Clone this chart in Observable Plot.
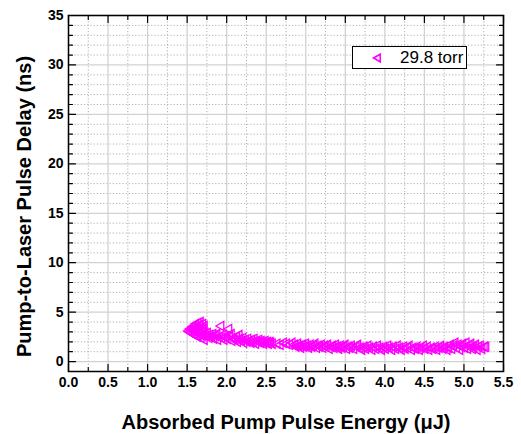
<!DOCTYPE html>
<html>
<head>
<meta charset="utf-8">
<script src="https://cdn.jsdelivr.net/npm/d3@7"></script>
<script src="https://cdn.jsdelivr.net/npm/@observablehq/plot@0.6"></script>
<style>
  body { margin: 0; background: #fff; }
  #wrap { position: relative; width: 521px; height: 434px; font-family: "Liberation Sans", Arial, sans-serif; }
  #legend { position: absolute; left: 352px; top: 46px; width: 115px; height: 23px; box-sizing: border-box;
            border: 1px solid #000; background: #fff; font-size: 17px; }
  #legend svg { position: absolute; left: 18px; top: 5px; }
  #legend span { position: absolute; left: 47px; top: 1px; }
</style>
</head>
<body>
<div id="wrap"></div>
<script>
// ---- data ----
const seriesName = "29.8 torr";
const energy = [
  1.52,1.54,1.54,1.56,1.56,1.57,1.58,1.58,1.59,1.60,1.60,1.61,1.62,1.62,1.63,1.64,1.64,1.65,1.66,1.66,1.67,1.68,1.68,1.69,1.70,1.70,1.71,1.72,1.72,1.73,
  1.75,1.76,1.78,1.79,1.81,1.83,1.84,1.86,1.88,1.89,1.91,1.93,1.94,1.96,1.97,1.99,2.01,2.03,2.04,2.06,2.07,2.09,2.11,2.13,2.14,2.16,2.17,2.19,2.21,2.22,
  2.24,2.26,2.27,2.29,2.31,2.32,2.34,2.35,2.37,2.38,2.40,2.41,2.43,2.44,2.46,2.47,2.49,2.50,2.52,2.53,2.55,2.56,2.58,
  2.64,2.68,2.72,2.76,2.80,2.83,
  2.86,2.88,2.90,2.92,2.94,2.96,2.98,3.00,3.02,3.04,3.06,3.08,3.10,3.12,3.14,3.16,3.18,3.20,3.22,3.24,3.26,3.28,3.30,3.32,3.34,3.36,3.38,3.40,3.42,3.44,
  3.46,3.48,3.50,3.52,3.54,3.56,3.58,
  3.61,3.64,3.66,3.69,3.71,3.74,3.76,3.79,3.81,3.84,3.86,3.89,3.91,3.94,3.96,3.99,4.01,4.04,4.06,4.09,4.11,4.14,4.16,4.19,4.21,4.24,4.26,4.29,4.31,4.34,
  4.36,4.39,4.41,4.44,4.46,4.49,4.51,4.54,4.56,4.59,4.61,4.64,4.66,4.69,4.71,4.74,4.76,4.79,
  4.81,4.83,4.85,4.87,4.89,4.91,4.93,4.95,4.97,4.99,5.01,5.03,5.05,5.07,5.09,5.11,5.13,5.15,5.17,5.19,5.21,5.23,5.26,5.28
];
const delay = [
  3.1,3.0,3.3,2.9,3.2,3.5,2.8,3.1,3.6,2.7,3.3,3.8,2.6,3.0,3.5,3.9,2.5,3.2,2.8,3.7,4.0,2.4,3.4,3.0,3.8,2.6,3.3,2.2,3.6,2.9,
  2.6,2.9,2.4,2.7,2.5,2.8,2.3,2.6,2.8,2.2,2.5,3.6,2.4,2.7,2.2,2.5,2.3,3.3,2.6,2.8,2.1,2.4,2.2,2.5,2.0,2.7,2.3,2.1,2.4,1.9,
  2.2,2.0,2.3,2.1,1.9,2.2,2.0,2.3,1.8,2.1,2.0,2.2,1.9,2.1,2.0,1.8,2.1,1.9,2.0,1.8,2.0,1.9,1.8,
  1.8,1.7,1.9,1.8,1.7,1.9,
  1.7,1.5,1.8,1.6,1.4,1.7,1.5,1.8,1.6,1.4,1.7,1.5,1.6,1.8,1.4,1.6,1.5,1.7,1.4,1.6,1.5,1.7,1.3,1.5,1.6,1.4,1.7,1.5,1.3,1.6,
  1.4,1.5,1.7,1.3,1.5,1.4,1.6,
  1.3,1.5,1.7,1.4,1.2,1.5,1.3,1.6,1.4,1.2,1.5,1.3,1.6,1.4,1.2,1.5,1.3,1.6,1.4,1.2,1.5,1.3,1.6,1.4,1.2,1.5,1.3,1.4,1.6,1.2,
  1.4,1.3,1.5,1.2,1.4,1.6,1.3,1.5,1.2,1.4,1.3,1.5,1.2,1.4,1.6,1.3,1.5,1.2,
  1.4,1.7,1.3,1.6,1.9,1.4,1.7,1.2,1.5,1.8,1.4,1.9,1.3,1.6,1.8,1.3,1.5,1.7,1.2,1.5,1.6,1.3,1.5,1.5
];
const xDomain = [0, 5.5];
const yDomain = [-1, 35];
const xMajor = [0,0.5,1,1.5,2,2.5,3,3.5,4,4.5,5,5.5];
const xMinor = [0.25,0.75,1.25,1.75,2.25,2.75,3.25,3.75,4.25,4.75,5.25];
const yMajor = [0,5,10,15,20,25,30,35];
const yMinor = [-1,1,2,3,4,6,7,8,9,11,12,13,14,16,17,18,19,21,22,23,24,26,27,28,29,31,32,33,34];
const xTitle = "Absorbed Pump Pulse Energy (\u03bcJ)";
const yTitle = "Pump-to-Laser Pulse Delay (ns)";

const points = energy.map((e, i) => ({energy: e, delay: delay[i]}));
const magenta = "#ff00ff";
const line = {draw(context, l) { context.moveTo(0, 0); context.lineTo(0, -l); }};

function ticks(data, axis, edge, rotate, length) {
  const opts = axis === "x"
    ? {x: d => d, y: edge}
    : {x: edge, y: d => d};
  return Plot.vector(data, {...opts, length, rotate, anchor: "start", shape: line, stroke: "#000", strokeWidth: 1.2});
}

const chart = Plot.plot({
  width: 521,
  height: 434,
  marginLeft: 68,
  marginRight: 18,
  marginTop: 15,
  marginBottom: 63,
  style: {fontFamily: "'Liberation Sans', Arial, sans-serif", background: "#fff", overflow: "visible"},
  x: {domain: xDomain},
  y: {domain: yDomain},
  marks: [
    Plot.ruleX(xMinor, {x: d => d, stroke: "#b0b0b0", strokeDasharray: "1.2,2"}),
    Plot.ruleY(yMinor.filter(d => d > yDomain[0]), {y: d => d, stroke: "#b0b0b0", strokeDasharray: "1.2,2"}),
    Plot.ruleX(xMajor, {x: d => d, stroke: "#d2d2d2", strokeWidth: 1.3}),
    Plot.ruleY(yMajor, {y: d => d, stroke: "#d2d2d2", strokeWidth: 1.3}),
    Plot.dot(points, {x: "energy", y: "delay", symbol: "triangle", r: 3.4, rotate: -90,
      stroke: magenta, strokeWidth: 1.3, fill: "none"}),
    // inward ticks on all four sides
    ticks(xMajor, "x", yDomain[0], 0, 7), ticks(xMinor, "x", yDomain[0], 0, 4),
    ticks(xMajor, "x", yDomain[1], 180, 7), ticks(xMinor, "x", yDomain[1], 180, 4),
    ticks(yMajor, "y", xDomain[0], 90, 7), ticks(yMinor, "y", xDomain[0], 90, 4),
    ticks(yMajor, "y", xDomain[1], -90, 7), ticks(yMinor, "y", xDomain[1], -90, 4),
    Plot.frame({stroke: "#000", strokeWidth: 1.5}),
    Plot.axisX(xMajor, {tickSize: 0, tickPadding: 6, tickFormat: d3.format(".1f"), label: null,
      fontSize: 14, fontWeight: "bold", fill: "#000"}),
    Plot.axisY(yMajor, {tickSize: 0, tickPadding: 5, tickFormat: d3.format("d"), label: null,
      fontSize: 14, fontWeight: "bold", fill: "#000"}),
    Plot.text([xTitle], {frameAnchor: "bottom", textAnchor: "middle", lineAnchor: "middle", dy: 51,
      fontSize: 20, fontWeight: "bold", fill: "#000"}),
    Plot.text([yTitle], {frameAnchor: "left", textAnchor: "middle", lineAnchor: "middle", dx: -44, dy: 13,
      rotate: -90, fontSize: 20, fontWeight: "bold", fill: "#000"})
  ]
});

const wrap = document.getElementById("wrap");
wrap.appendChild(chart);
const legend = document.createElement("div");
legend.id = "legend";
legend.innerHTML = `<svg width="12" height="12" viewBox="-6 -6 12 12"><path d="M-3.5,0L3.2,-3.8L3.2,3.8Z" fill="none" stroke="${magenta}" stroke-width="1.6"/></svg><span>${seriesName}</span>`;
wrap.appendChild(legend);
</script>
</body>
</html>
